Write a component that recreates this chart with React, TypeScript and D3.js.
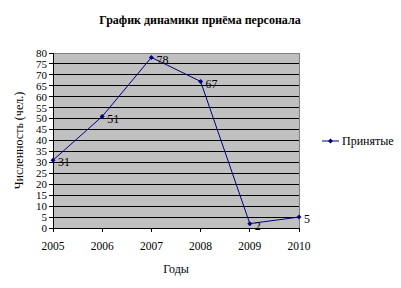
import React from "react";
import * as d3 from "d3";

const years = ["2005", "2006", "2007", "2008", "2009", "2010"];
const hired = [31, 51, 78, 67, 2, 5];
const yTicks = d3.range(0, 85, 5);
const title = "График динамики приёма персонала";
const xTitle = "Годы";
const yTitle = "Численность (чел.)";
const seriesName = "Принятые";

const W = 401, H = 288;
const L = 53, R = 299, T = 53, B = 228;
const font = "'Liberation Serif', 'Times New Roman', serif";

export default function App() {
  const x = d3.scalePoint<string>().domain(years).range([L, R]);
  const y = d3.scaleLinear().domain([0, 80]).range([B, T]);
  const line = d3.line<number>().x((_, i) => x(years[i])!).y((d) => y(d));
  const diamond = (cx: number, cy: number) =>
    `M${cx},${cy - 2.5}L${cx + 2.5},${cy}L${cx},${cy + 2.5}L${cx - 2.5},${cy}Z`;
  return (
    <svg width={W} height={H} style={{ position: "absolute", left: 0, top: 0, background: "#fff" }} fontFamily={font}>
      <text x={200} y={24} textAnchor="middle" fontSize={12} fontWeight="bold">{title}</text>
      <rect x={L} y={T} width={R - L} height={B - T} fill="#C0C0C0" />
      {yTicks.map((t) => (
        <line key={t} x1={L} x2={R} y1={y(t)} y2={y(t)} stroke="#000" strokeWidth={1} shapeRendering="crispEdges" />
      ))}
      <rect x={L} y={T} width={R - L} height={B - T} fill="none" stroke="#808080" shapeRendering="crispEdges" />
      <line x1={L} x2={L} y1={T} y2={B} stroke="#000" shapeRendering="crispEdges" />
      <line x1={L} x2={R} y1={B} y2={B} stroke="#000" shapeRendering="crispEdges" />
      {yTicks.map((t) => (
        <g key={t}>
          <line x1={L - 4} x2={L} y1={y(t)} y2={y(t)} stroke="#000" shapeRendering="crispEdges" />
          <text x={L - 6} y={y(t)} dy="0.35em" textAnchor="end" fontSize={11}>{t}</text>
        </g>
      ))}
      {years.map((yr) => (
        <g key={yr}>
          <line x1={x(yr)} x2={x(yr)} y1={B} y2={B + 4} stroke="#000" shapeRendering="crispEdges" />
          <text x={x(yr)} y={B + 22} textAnchor="middle" fontSize={11.5}>{yr}</text>
        </g>
      ))}
      <text x={176} y={273} textAnchor="middle" fontSize={12}>{xTitle}</text>
      <text transform={`translate(23,${(T + B) / 2}) rotate(-90)`} textAnchor="middle" fontSize={12}>{yTitle}</text>
      <path d={line(hired) || ""} fill="none" stroke="#000080" strokeWidth={1} />
      {hired.map((v, i) => (
        <g key={i}>
          <path d={diamond(x(years[i])!, y(v))} fill="#000080" />
          <text x={x(years[i])! + 5} y={y(v) + 2} dy="0.35em" fontSize={12}>{v}</text>
        </g>
      ))}
      <line x1={322} x2={339} y1={141} y2={141} stroke="#000080" />
      <path d={diamond(330.5, 141)} fill="#000080" />
      <text x={342} y={141} dy="0.35em" fontSize={12}>{seriesName}</text>
    </svg>
  );
}
